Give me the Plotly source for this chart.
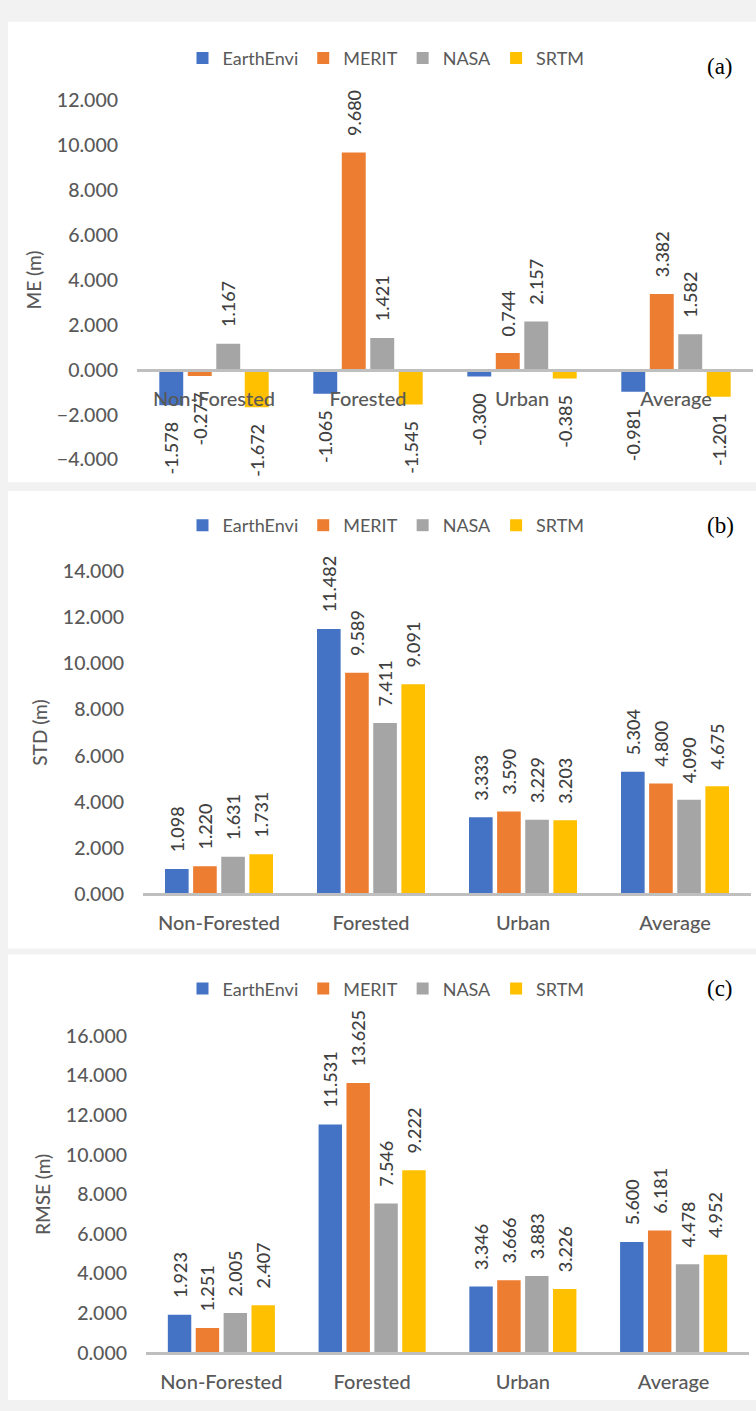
import plotly.graph_objects as go

# ---------------- data ----------------
categories = ["Non-Forested", "Forested", "Urban", "Average"]
series_names = ["EarthEnvi", "MERIT", "NASA", "SRTM"]
series_colors = ["#4472C4", "#ED7D31", "#A5A5A5", "#FFC000"]

me_earthenvi = [-1.578, -1.065, -0.300, -0.981]
me_merit = [-0.277, 9.680, 0.744, 3.382]
me_nasa = [1.167, 1.421, 2.157, 1.582]
me_srtm = [-1.672, -1.545, -0.385, -1.201]

std_earthenvi = [1.098, 11.482, 3.333, 5.304]
std_merit = [1.220, 9.589, 3.590, 4.800]
std_nasa = [1.631, 7.411, 3.229, 4.090]
std_srtm = [1.731, 9.091, 3.203, 4.675]

rmse_earthenvi = [1.923, 11.531, 3.346, 5.600]
rmse_merit = [1.251, 13.625, 3.666, 6.181]
rmse_nasa = [2.005, 7.546, 3.883, 4.478]
rmse_srtm = [2.407, 9.222, 3.226, 4.952]

panel_titles = ["ME (m)", "STD (m)", "RMSE (m)"]
panel_tags = ["(a)", "(b)", "(c)"]
panel_ranges = [[-4, 12], [0, 14], [0, 16]]

# ---------------- layout geometry (pixels) ----------------
W, H = 756, 1411
panel_boxes = [(8, 10, 478), (8, 487, 952), (8, 958, 1411)]      # x0, top, bottom
plot_x = [(137, 753), (143, 751), (146, 749)]                       # plot area left/right
plot_y = [(90, 455), (568, 897), (1041, 1363)]                      # top/bottom of y range
zero_y = [364, 897, 1363]
legend_y = [47, 522, 993]
tag_y = [55, 522, 993]

FONT = "Lato"
GREY_TXT = "#595959"


def px_x(p):
    return p / W


def px_y(p):
    return 1 - p / H


def fmt(v):
    pad = "\u00a0" * 3
    s = f"{v:.3f}"
    return pad + s if v >= 0 else s + pad


panels = [
    [me_earthenvi, me_merit, me_nasa, me_srtm],
    [std_earthenvi, std_merit, std_nasa, std_srtm],
    [rmse_earthenvi, rmse_merit, rmse_nasa, rmse_srtm],
]

fig = go.Figure()

for i, series in enumerate(panels):
    sfx = "" if i == 0 else str(i + 1)
    for name, color, vals in zip(series_names, series_colors, series):
        fig.add_trace(go.Bar(
            x=categories, y=vals, name=name,
            marker=dict(color=color, line=dict(width=0)),
            text=[fmt(v) for v in vals],
            textposition="outside", textangle=-90,
            textfont=dict(family=FONT, size=18, color="#404040", weight=500),
            cliponaxis=False, constraintext="none",
            xaxis="x" + sfx, yaxis="y" + sfx,
            legend="legend" + sfx,
            hoverinfo="x+y+name",
        ))

layout = dict(
    width=W, height=H,
    margin=dict(l=0, r=0, t=0, b=0),
    paper_bgcolor="#f2f2f2",
    plot_bgcolor="rgba(0,0,0,0)",
    barmode="group", bargap=0.26, bargroupgap=0.16,
    font=dict(family=FONT, color=GREY_TXT),
    shapes=[], annotations=[],
)

for i in range(3):
    sfx = "" if i == 0 else str(i + 1)
    x0, top, bottom = panel_boxes[i]
    layout["shapes"].append(dict(
        type="rect", xref="paper", yref="paper", layer="below",
        x0=px_x(x0), x1=1.0, y0=px_y(bottom), y1=px_y(top),
        fillcolor="white", line=dict(width=0),
    ))
    layout["xaxis" + sfx] = dict(
        domain=[px_x(plot_x[i][0]), px_x(plot_x[i][1])],
        anchor="free", position=px_y(zero_y[i]),
        type="category", showgrid=False, zeroline=False,
        showline=True, linecolor="#bfbfbf", linewidth=3,
        ticks="", ticklabelstandoff=10,
        tickfont=dict(family=FONT, size=20, color=GREY_TXT, weight=500),
        fixedrange=True,
    )
    layout["yaxis" + sfx] = dict(
        domain=[px_y(plot_y[i][1]), px_y(plot_y[i][0])],
        anchor="x" + sfx, range=panel_ranges[i],
        tick0=panel_ranges[i][0], dtick=2, tickformat=".3f",
        showgrid=False, zeroline=False, showline=False, ticks="",
        ticklabelstandoff=18,
        tickfont=dict(family=FONT, size=19.5, color=GREY_TXT, weight=500),
        title=dict(text=panel_titles[i], standoff=10,
                   font=dict(family=FONT, size=19, color=GREY_TXT, weight=500)),
        fixedrange=True,
    )
    layout["legend" + sfx] = dict(
        orientation="h", x=px_x(386), xanchor="center",
        y=px_y(legend_y[i]), yanchor="middle",
        bgcolor="rgba(0,0,0,0)", borderwidth=0,
        font=dict(family=FONT, size=18, color=GREY_TXT),
        itemclick=False, itemdoubleclick=False,
    )
    layout["annotations"].append(dict(
        text=panel_tags[i], xref="paper", yref="paper",
        x=px_x(720), y=px_y(tag_y[i]), xanchor="center", yanchor="middle",
        showarrow=False,
        font=dict(family="Liberation Serif", size=23, color="black"),
    ))

fig.update_layout(**layout)
fig.write_html(
    "out.html",
    config={"displayModeBar": False},
    post_script="document.body.style.margin='0';document.body.style.overflow='hidden';",
)
